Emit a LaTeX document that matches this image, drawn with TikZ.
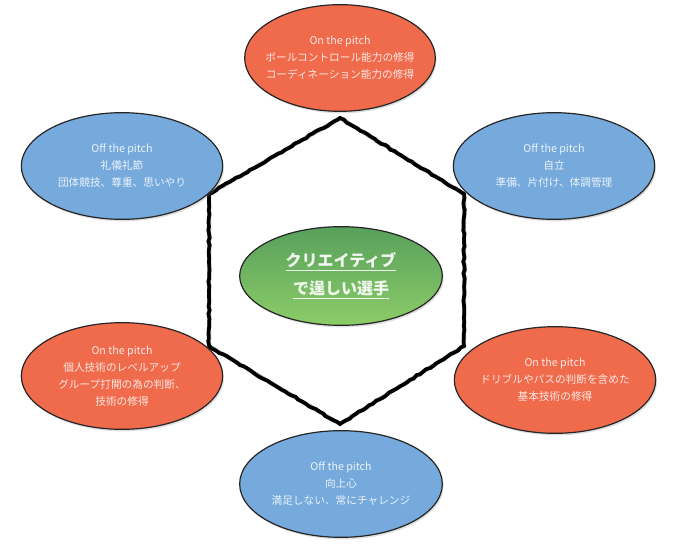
\documentclass[tikz,border=0pt]{standalone}
\usepackage{fontspec}
\newfontfamily\jpfont{Noto Sans CJK JP}
\usepackage{tikz}
\usetikzlibrary{shapes.geometric, shadows, decorations.pathmorphing}
\usepackage{xcolor}
\definecolor{pitchred}{RGB}{240,106,76}
\definecolor{pitchblue}{RGB}{118,170,220}
\definecolor{coregreenA}{RGB}{88,160,92}
\definecolor{coregreenB}{RGB}{140,204,104}

\tikzset{
  bubble/.style={ellipse, draw=black!85, line width=0.9pt, align=center,
    text=white, text opacity=0.85, minimum width=151pt, minimum height=80pt,
    inner xsep=-12pt, inner ysep=-4pt,
    drop shadow={opacity=0.25, shadow xshift=1pt, shadow yshift=-1.5pt}},
  onpitch/.style={bubble, fill=pitchred},
  offpitch/.style={bubble, fill=pitchblue},
  core/.style={ellipse, draw=black!85, line width=0.9pt, align=center,
    top color=coregreenA, bottom color=coregreenB, text=white, text opacity=0.9,
    minimum width=152pt, minimum height=74pt, inner sep=0pt,
    drop shadow={opacity=0.25, shadow xshift=1pt, shadow yshift=-1.5pt},
    font=\jpfont\fontsize{12}{21}\selectfont\bfseries}
}

\begin{document}
\begin{tikzpicture}[x=0.75pt, y=-0.75pt,
  every node/.style={font=\jpfont\fontsize{8}{12.8}\selectfont}]
  \useasboundingbox (0,0) rectangle (678,549);

  % hexagon behind the ovals
  \coordinate (hx1) at (340,118);
  \coordinate (hx2) at (464,194);
  \coordinate (hx3) at (464,346);
  \coordinate (hx4) at (340,424);
  \coordinate (hx5) at (209,346);
  \coordinate (hx6) at (209,194);
  \draw[black!30, line width=3pt, line join=miter, xshift=1.5pt, yshift=-2pt]
    (hx1) -- (hx2) -- (hx3) -- (hx4) -- (hx5) -- (hx6) -- cycle;
  \draw[black, line width=2.8pt, line join=miter,
    decorate, decoration={random steps, segment length=3pt, amplitude=0.6pt}]
    (hx1) -- (hx2) -- (hx3) -- (hx4) -- (hx5) -- (hx6) -- cycle;

  \node[onpitch, minimum width=143pt] (ontop) at (340,58)
    {On the pitch\\ ボールコントロール能力の修得\\ コーディネーション能力の修得};
  \node[offpitch] (offleft) at (122,166)
    {Off the pitch\\ 礼儀礼節\\ 団体競技、尊重、思いやり};
  \node[offpitch] (offright) at (554,166)
    {Off the pitch\\ 自立\\ 準備、片付け、体調管理};
  \node[onpitch] (onleft) at (122,376)
    {On the pitch\\ 個人技術のレベルアップ\\ グループ打開の為の判断、\\ 技術の修得};
  \node[onpitch] (onright) at (555,380)
    {On the pitch\\ ドリブルやパスの判断を含めた\\ 基本技術の修得};
  \node[offpitch, minimum width=152pt] (offbottom) at (341,484)
    {Off the pitch\\ 向上心\\ 満足しない、常にチャレンジ};

  \node[core] (center) at (341,276)
    {\underline{クリエイティブ}\\ \underline{で逞しい選手}};
\end{tikzpicture}
\end{document}
